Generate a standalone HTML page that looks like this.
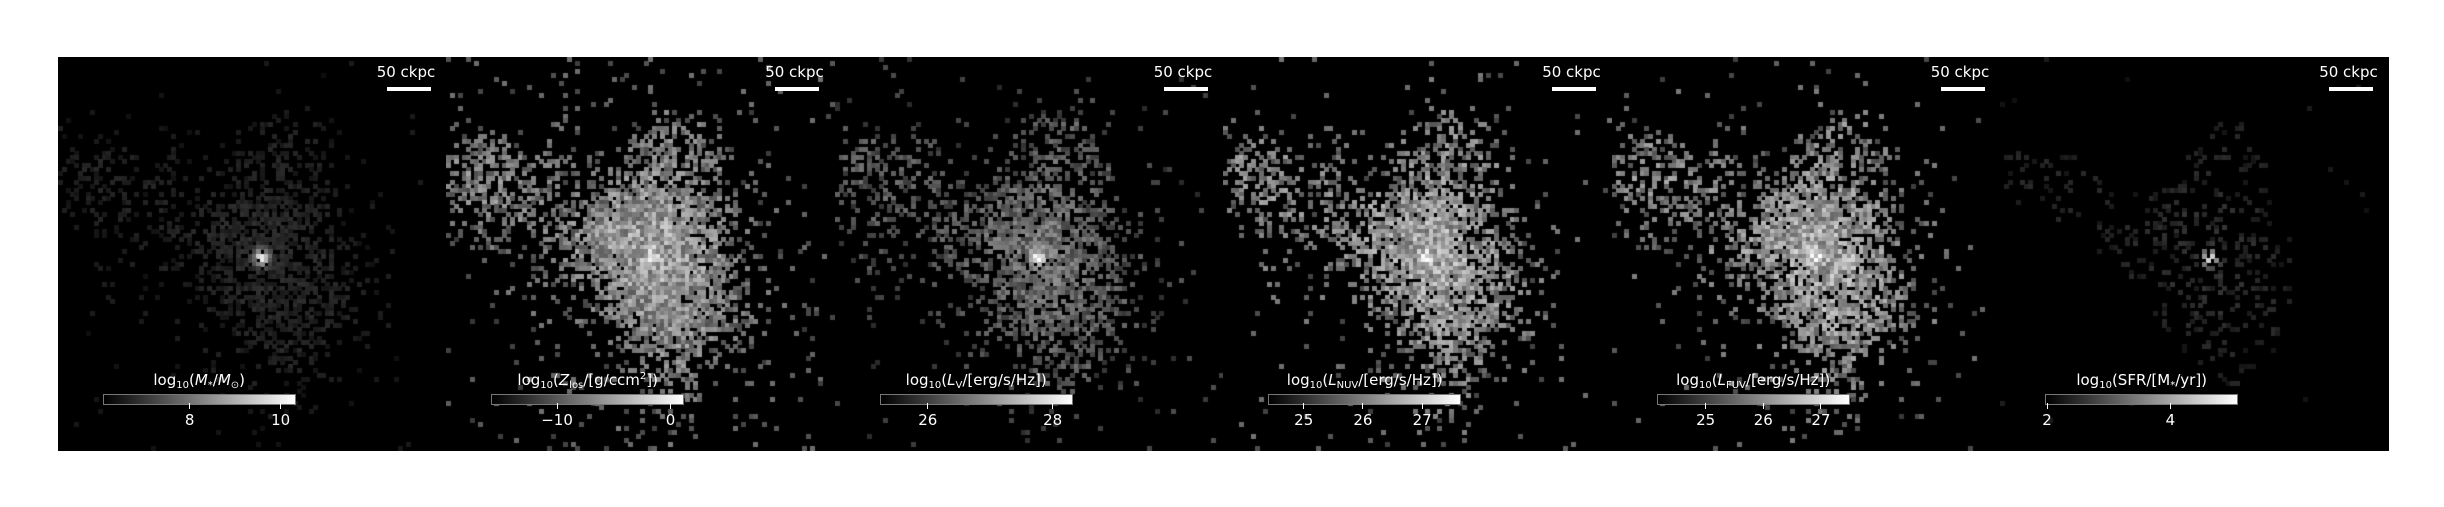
<!DOCTYPE html>
<html><head><meta charset="utf-8">
<style>
html,body{margin:0;padding:0;background:#fff;}
#wrap{position:relative;width:2444px;height:507px;overflow:hidden;background:#fff;font-family:"DejaVu Sans","Liberation Sans",sans-serif;}
.panel{position:absolute;top:57px;width:389px;height:394px;background:#000;overflow:hidden;}
.panel canvas{position:absolute;left:0;top:0;}
.sb-text{position:absolute;color:#fff;font-size:15px;line-height:15px;white-space:nowrap;}
.sb-bar{position:absolute;background:#fff;height:4px;}
.cb{position:absolute;height:11px;background:linear-gradient(to right,#000,#fff);border:1px solid #777;box-sizing:border-box;}
.cb-label{position:absolute;color:#fff;font-size:15px;white-space:nowrap;transform:translateX(-50%);}
.tick{position:absolute;width:1px;height:6px;background:#fff;}
.tlab{position:absolute;color:#fff;font-size:15px;transform:translateX(-50%);}
sub{font-size:10px;vertical-align:-3px;line-height:0;}
sup{font-size:10px;line-height:0;}
</style></head>
<body>
<div id="wrap"></div>
<script>
// ---- data ----
const gridN = 96;
const coarseMap = [
"000000000000100000000000",
"000000000001100100000000",
"000010000001111110000000",
"100000001001233211000000",
"222121112112345321100000",
"344332221123454431100000",
"455443322234565442110000",
"455554432345665432110000",
"345544434567776542110000",
"234443445678887653211000",
"123323456789997653211000",
"012222456789998764211100",
"012222345678999764321100",
"011112234578898765321100",
"001111223567887765321110",
"001011122456787664321110",
"000001112345677654321000",
"000001111234566543210000",
"000000111223455432110000",
"000000011122344321100000",
"000000001111223211000000",
"000000000111122110000000",
"000000000011111100000000",
"000000000001110000000000"];
const panelOccupancy = [0.7, 1.3, 0.9, 1.0, 1.0, 0.3];
const panelBrightness = [0.15, 0.6, 0.42, 0.62, 0.62, 0.16];
const panelMinDigit = [0, 0, 0, 0, 0, 4];
const coreU = [0.525, 0.53, 0.525, 0.525, 0.525, 0.54];
const coreV = [0.51, 0.51, 0.51, 0.51, 0.51, 0.51];
const coreBoost = [0.8, 0.35, 0.55, 0.3, 0.3, 0.75];
const cbLabels = [
 'log<sub>10</sub>(<i>M</i><sub>*</sub>/<i>M</i><sub>⊙</sub>)',
 'log<sub>10</sub>(<i>Z</i><sub>los</sub>/[g/ccm<sup>2</sup>])',
 'log<sub>10</sub>(<i>L</i><sub>V</sub>/[erg/s/Hz])',
 'log<sub>10</sub>(<i>L</i><sub>NUV</sub>/[erg/s/Hz])',
 'log<sub>10</sub>(<i>L</i><sub>FUV</sub>/[erg/s/Hz])',
 'log<sub>10</sub>(SFR/[M<sub>*</sub>/yr])'];
const cbMin = [6.09, -15.8, 25.23, 24.4, 24.15, 1.97];
const cbMax = [10.33, 1.2, 28.32, 27.66, 27.5, 5.1];
const cbTicks = [[8,10],[-10,0],[26,28],[25,26,27],[25,26,27],[2,4]];
const cbTickLabels = [["8","10"],["\u221210","0"],["26","28"],["25","26","27"],["25","26","27"],["2","4"]];
const panelNames = ['stellar-mass','metal-column','lum-v','lum-nuv','lum-fuv','sfr'];

// ---- layout ----
const W = 389, H = 394, X0 = 57.7, DX = 388.5;
const CBL = 45, CBW = 193;
function hash(a,b,c){let h=(a*374761393+b*668265263+c*2147483647)|0;h=(h^(h>>>13))*1274126177|0;h^=h>>>16;return ((h>>>0)%10000)/10000;}
const wrap = document.getElementById('wrap');
for(let p=0;p<6;p++){
  const panel=document.createElement('div');
  panel.className='panel';
  panel.style.left=(X0+p*DX)+'px';
  
  
  wrap.appendChild(panel);
  const cv=document.createElement('canvas');cv.width=W;cv.height=H;
  
  
  panel.appendChild(cv);
  const ctx=cv.getContext('2d');
  const cw=W/gridN, ch=H/gridN;
  for(let j=0;j<gridN;j++){for(let i=0;i<gridN;i++){
    const d=+coarseMap[Math.floor(j/4)][Math.floor(i/4)];
    let prob=Math.pow(d/9,1.4)*panelOccupancy[p];
    if(d<panelMinDigit[p]) prob=0;
    if(d===0) prob=(p===1?0.03:0.012)*panelOccupancy[p];
    if(hash(i,j,p%3+1)>=prob) continue;
    const u=(i+0.5)/gridN, v=(j+0.5)/gridN;
    const r2=((u-coreU[p])**2+(v-coreV[p])**2)/0.0004;
    let b=panelBrightness[p]*(0.55+0.45*d/9)*(0.65+0.7*hash(j,i,7+p))+coreBoost[p]*Math.exp(-r2);
    b=Math.max(0.05,Math.min(1,b));
    const g=Math.round(b*255);
    ctx.fillStyle=`rgb(${g},${g},${g})`;
    ctx.fillRect(Math.floor(i*cw),Math.floor(j*ch),Math.ceil(cw),Math.ceil(ch));
  }}
  // scale bar
  const st=document.createElement('div');st.className='sb-text';st.textContent='50 ckpc';
  st.style.left='319px';st.style.top='8px';
  
  
  panel.appendChild(st);
  const sb=document.createElement('div');sb.className='sb-bar';sb.style.left='329px';sb.style.width='44px';sb.style.top='30px';
  
  
  panel.appendChild(sb);
  // colorbar
  const cbl=document.createElement('div');cbl.className='cb-label';cbl.innerHTML=cbLabels[p];
  cbl.style.left=(CBL+CBW/2)+'px';cbl.style.top='314px';
  
  
  panel.appendChild(cbl);
  const cb=document.createElement('div');cb.className='cb';cb.style.left=CBL+'px';cb.style.width=CBW+'px';cb.style.top='337px';
  
  
  panel.appendChild(cb);
  cbTicks[p].forEach((t,k)=>{
    const x=CBL+(t-cbMin[p])/(cbMax[p]-cbMin[p])*CBW;
    const tk=document.createElement('div');tk.className='tick';tk.style.left=(x-0.5)+'px';tk.style.top='346px';
    
    
    panel.appendChild(tk);
    const tl=document.createElement('div');tl.className='tlab';tl.textContent=cbTickLabels[p][k];
    tl.style.left=x+'px';tl.style.top='354px';
    
    
    panel.appendChild(tl);
  });
}
</script>
</body></html>
